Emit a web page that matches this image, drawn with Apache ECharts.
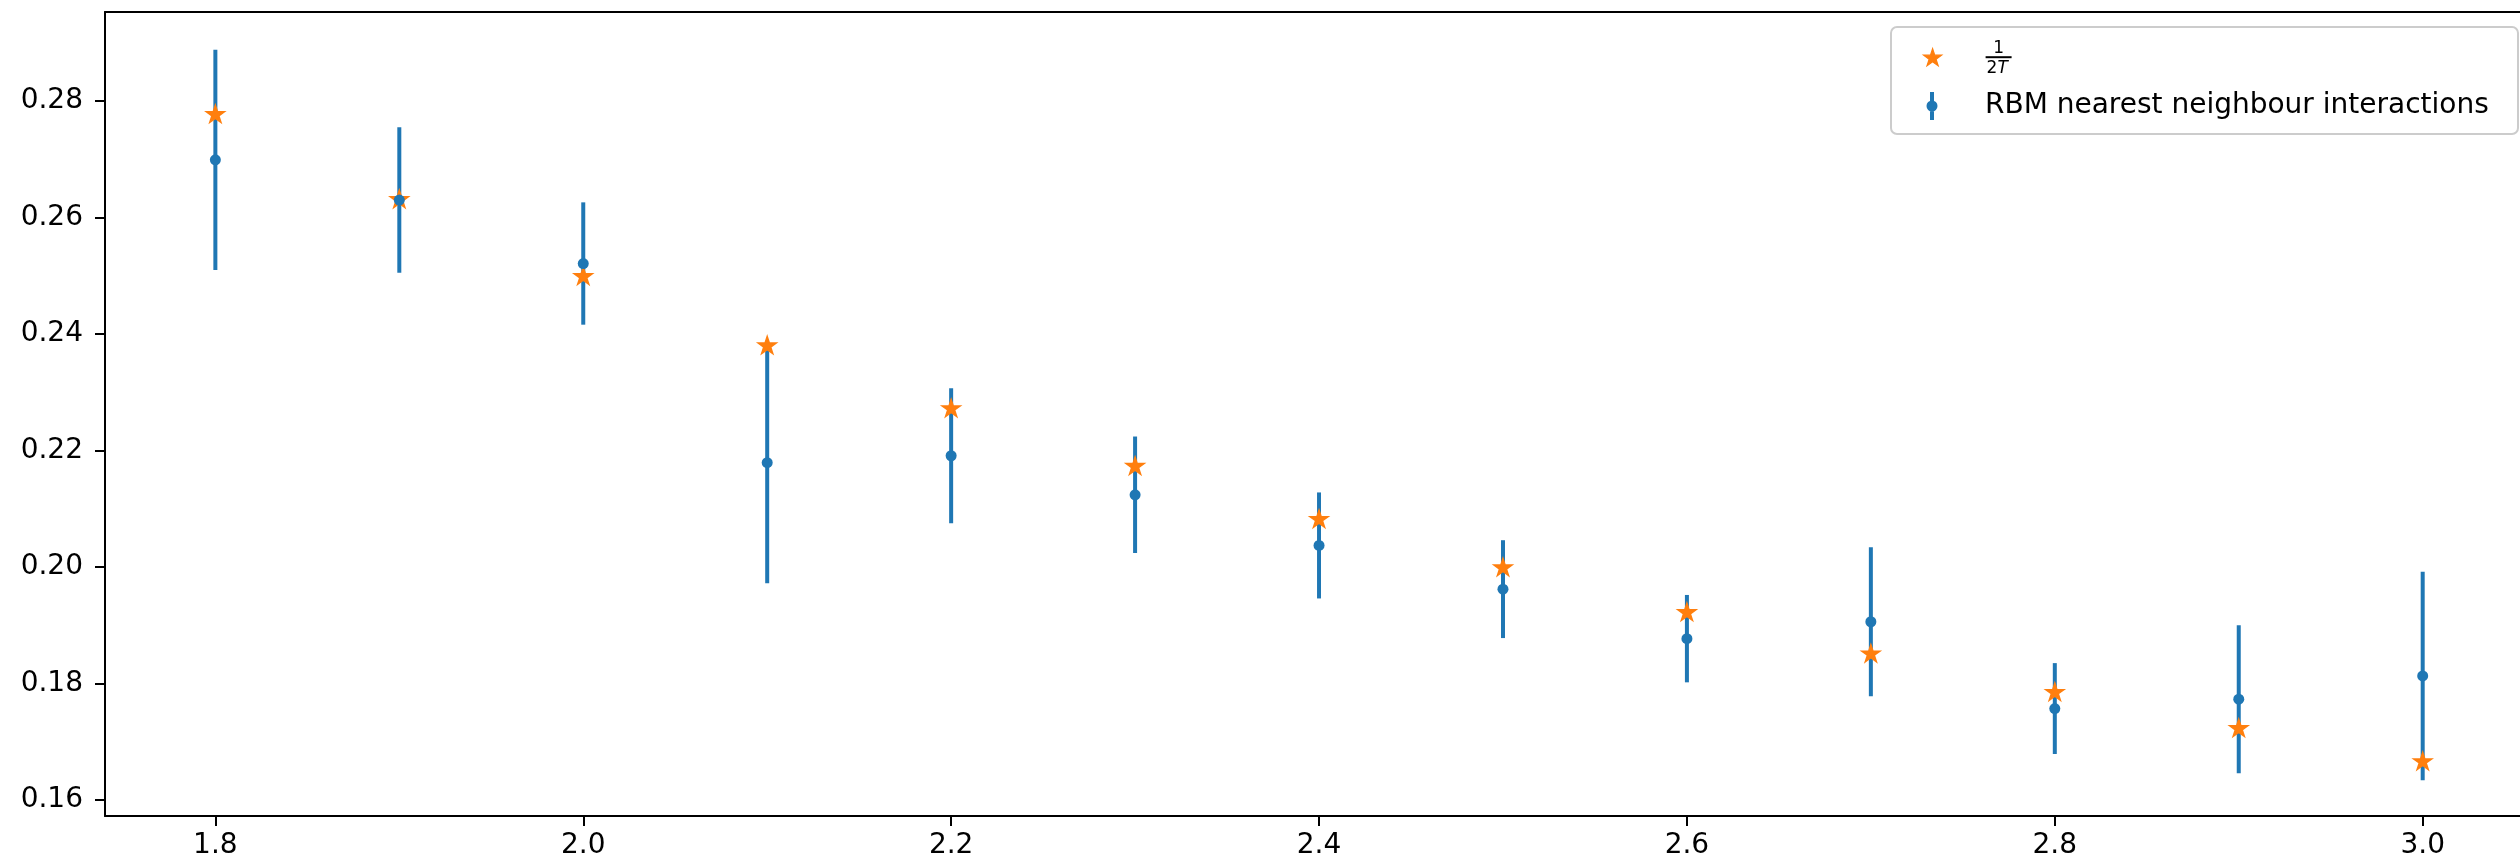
<!DOCTYPE html>
<html>
<head>
<meta charset="utf-8">
<script src="https://cdn.jsdelivr.net/npm/echarts@6/dist/echarts.min.js"></script>
<style>
  html, body { margin: 0; padding: 0; background: #ffffff; }
  #chart { width: 2520px; height: 865px; }
</style>
</head>
<body>
<div id="chart"></div>
<script>
// Temperatures (x values)
const temperatures = [1.8, 1.9, 2.0, 2.1, 2.2, 2.3, 2.4, 2.5, 2.6, 2.7, 2.8, 2.9, 3.0];
// RBM estimate with nearest-neighbour interactions: mean and half-width of the error bar
const rbmMean = [0.2699, 0.2630, 0.2521, 0.2179, 0.2191, 0.2124, 0.2037, 0.1962, 0.1877, 0.1906, 0.1757, 0.1773, 0.1813];
const rbmErr  = [0.0189, 0.0125, 0.0105, 0.0207, 0.0116, 0.0100, 0.0091, 0.0084, 0.0075, 0.0128, 0.0078, 0.0127, 0.0179];
// Reference curve 1/(2T)
const inverseTwoT = [0.2778, 0.2632, 0.2500, 0.2381, 0.2273, 0.2174, 0.2083, 0.2000, 0.1923, 0.1852, 0.1786, 0.1724, 0.1667];
// Tick positions
const xTicks = [1.8, 2.0, 2.2, 2.4, 2.6, 2.8, 3.0];
const yTicks = [0.16, 0.18, 0.20, 0.22, 0.24, 0.26, 0.28];

const BLUE = '#1f77b4';
const ORANGE = '#ff7f0e';
const FONT = 'DejaVu Sans';
const NAME_STAR = '1/(2T)';
const NAME_RBM = 'RBM nearest neighbour interactions';

// x range: axes open past the right edge of the page, so the right spine is not visible
const X_MIN = 1.74, X_MAX = 3.0529;
const Y_MIN = 0.157253, Y_MAX = 0.295279;

const STAR_PATH = 'path://M10,0L12.245,6.910L19.511,6.910L13.633,11.180L15.878,18.090L10,13.82L4.122,18.090L6.367,11.180L0.489,6.910L7.755,6.910Z';
const ERRBAR_ICON = 'path://M3.5,0h4v28h-4z M0,14a5.5,5.5 0 1,1 11,0a5.5,5.5 0 1,1 -11,0z';

const errData = temperatures.map((t, i) => [t, rbmMean[i] - rbmErr[i], rbmMean[i] + rbmErr[i]]);
const meanData = temperatures.map((t, i) => [t, rbmMean[i]]);
const starData = temperatures.map((t, i) => [t, inverseTwoT[i]]);

const chart = echarts.init(document.getElementById('chart'), null, { renderer: 'canvas' });

const axisLineStyle = { color: '#000000', width: 2 };

const option = {
  animation: false,
  backgroundColor: '#ffffff',
  grid: { left: 105, top: 12, right: 0, bottom: 49, show: false },
  xAxis: [
    {
      type: 'value', min: X_MIN, max: X_MAX, position: 'bottom',
      splitLine: { show: false },
      axisLine: { show: true, onZero: false, lineStyle: axisLineStyle },
      axisTick: { show: true, length: 10, lineStyle: axisLineStyle, customValues: xTicks },
      axisLabel: {
        customValues: xTicks, margin: 16, color: '#000000', fontFamily: FONT, fontSize: 28,
        formatter: v => v.toFixed(1)
      }
    },
    {
      type: 'value', min: X_MIN, max: X_MAX, position: 'top',
      splitLine: { show: false },
      axisLine: { show: true, onZero: false, lineStyle: axisLineStyle },
      axisTick: { show: false },
      axisLabel: { show: false }
    }
  ],
  yAxis: {
    type: 'value', min: Y_MIN, max: Y_MAX,
    splitLine: { show: false },
    axisLine: { show: true, onZero: false, lineStyle: axisLineStyle },
    axisTick: { show: true, length: 10, lineStyle: axisLineStyle, customValues: yTicks },
    axisLabel: {
      customValues: yTicks, margin: 22, color: '#000000', fontFamily: FONT, fontSize: 28,
      formatter: v => v.toFixed(2)
    }
  },
  graphic: [{
    type: 'rect', z: 3,
    shape: { x: 1891, y: 27, width: 627, height: 107, r: 6 },
    style: { fill: 'rgba(255,255,255,0.8)', stroke: '#cccccc', lineWidth: 2 }
  }],
  legend: [
    {
      data: [{ name: NAME_STAR, icon: STAR_PATH }],
      orient: 'vertical', left: 1923, top: 35.7, padding: 0, z: 5,
      itemWidth: 18, itemHeight: 18,
      selectedMode: false,
      itemStyle: { borderColor: ORANGE, borderWidth: 1.2 },
      formatter: () => '{num|1}\n{sp|}{bar|}\n{den|2}{denI|T}',
      textStyle: {
        color: '#000000', fontFamily: FONT,
        rich: {
          num: { fontSize: 17, lineHeight: 18, width: 26, align: 'center', padding: [4, 0, 0, 39], color: '#000000', fontFamily: FONT },
          sp: { width: 39, height: 4, lineHeight: 4 },
          bar: { width: 26, height: 2, lineHeight: 4, backgroundColor: '#000000' },
          den: { fontSize: 17, lineHeight: 18, padding: [0, 0, 0, 40], color: '#000000', fontFamily: FONT },
          denI: { fontSize: 17, lineHeight: 18, fontStyle: 'italic', color: '#000000', fontFamily: FONT }
        }
      }
    },
    {
      data: [{ name: NAME_RBM, icon: ERRBAR_ICON }],
      orient: 'vertical', left: 1926.5, top: 92, padding: 0, z: 5,
      itemWidth: 11, itemHeight: 28,
      selectedMode: false,
      formatter: name => '{t|' + name + '}',
      textStyle: {
        color: '#000000', fontFamily: FONT, fontSize: 28,
        rich: {
          t: { fontSize: 28, lineHeight: 28, padding: [0, 0, 0, 42.5], color: '#000000', fontFamily: FONT }
        }
      }
    }
  ],
  series: [
    {
      name: NAME_RBM,
      type: 'custom',
      z: 1,
      data: errData,
      encode: { x: 0, y: [1, 2] },
      itemStyle: { color: BLUE },
      renderItem: (params, api) => {
        const x = api.value(0);
        const top = api.coord([x, api.value(2)]);
        const bottom = api.coord([x, api.value(1)]);
        return {
          type: 'line',
          shape: { x1: top[0], y1: top[1], x2: bottom[0], y2: bottom[1] },
          style: { stroke: BLUE, lineWidth: 4 }
        };
      }
    },
    {
      name: NAME_STAR,
      type: 'scatter',
      z: 2,
      data: starData,
      symbol: STAR_PATH,
      symbolKeepAspect: true,
      symbolSize: 18,
      itemStyle: { color: ORANGE, opacity: 1, borderColor: ORANGE, borderWidth: 1.5 }
    },
    {
      name: NAME_RBM,
      type: 'scatter',
      z: 3,
      data: meanData,
      symbol: 'circle',
      symbolSize: 11,
      itemStyle: { color: BLUE, opacity: 1 }
    }
  ]
};

chart.setOption(option);
</script>
</body>
</html>
